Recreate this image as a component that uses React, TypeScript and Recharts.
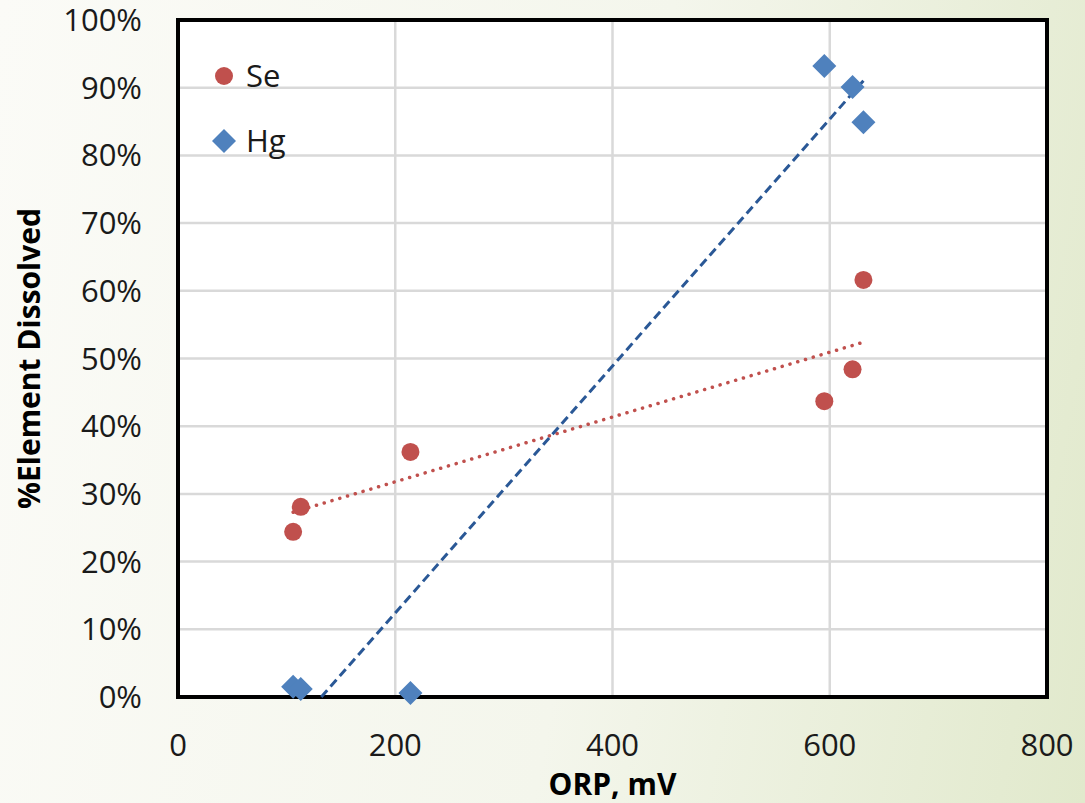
import { ScatterChart, Scatter, XAxis, YAxis, CartesianGrid, ReferenceArea, Legend } from "recharts";

// ORP (mV) of each sample, shared by both elements
const orp = [106, 113, 214, 595, 621, 631];
// % dissolved per element
const seDissolved = [24.4, 28.1, 36.2, 43.7, 48.4, 61.6];
const hgDissolved = [1.5, 1.2, 0.6, 93.2, 90.1, 84.9];

const xTicks = [0, 200, 400, 600, 800];
const yTicks = [0, 10, 20, 30, 40, 50, 60, 70, 80, 90, 100];

const SE_COLOR = "#c0504d";
const HG_COLOR = "#4f81bd";
const FONT = "'Open Sans', sans-serif";

const seData = orp.map((x, i) => ({ x, y: seDissolved[i] }));
const hgData = orp.map((x, i) => ({ x, y: hgDissolved[i] }));

// least squares fit, like the Excel linear trendline
const fit = (xs: number[], ys: number[]) => {
  const n = xs.length;
  const mx = xs.reduce((a, b) => a + b, 0) / n;
  const my = ys.reduce((a, b) => a + b, 0) / n;
  let sxy = 0;
  let sxx = 0;
  xs.forEach((x, i) => {
    sxy += (x - mx) * (ys[i] - my);
    sxx += (x - mx) * (x - mx);
  });
  const slope = sxy / sxx;
  return { slope, intercept: my - slope * mx };
};

const trend = (xs: number[], ys: number[]) => {
  const { slope, intercept } = fit(xs, ys);
  let x0 = Math.min(...xs);
  const x1 = Math.max(...xs);
  // clip at the bottom of the plot
  if (slope * x0 + intercept < 0) x0 = -intercept / slope;
  return [
    { x: x0, y: slope * x0 + intercept },
    { x: x1, y: slope * x1 + intercept },
  ];
};

const seTrend = trend(orp, seDissolved);
const hgTrend = trend(orp, hgDissolved);

const Dot = (props: any) => <circle cx={props.cx} cy={props.cy} r={9} fill={SE_COLOR} />;

const Diamond = (props: any) => {
  const { cx, cy } = props;
  const s = 12;
  return <path d={`M${cx},${cy - s}L${cx + s},${cy}L${cx},${cy + s}L${cx - s},${cy}Z`} fill={HG_COLOR} />;
};

const NoMark = () => null;

const LegendBox = () => (
  <div style={{ fontFamily: FONT, fontSize: 31, color: "#1a1a1a", lineHeight: "65px" }}>
    <div style={{ display: "flex", alignItems: "center" }}>
      <svg width={24} height={24} style={{ marginRight: 10 }}>
        <circle cx={12} cy={12} r={9} fill={SE_COLOR} />
      </svg>
      Se
    </div>
    <div style={{ display: "flex", alignItems: "center" }}>
      <svg width={24} height={24} style={{ marginRight: 10 }}>
        <path d="M12,0L24,12L12,24L0,12Z" fill={HG_COLOR} />
      </svg>
      Hg
    </div>
  </div>
);

export default function App() {
  return (
    <div
      style={{
        position: "absolute",
        left: 0,
        top: 0,
        width: 1085,
        height: 803,
        background: "linear-gradient(100deg, #fbfbf7 0%, #f4f6ec 55%, #e1e9cc 100%)",
      }}
    >
      <ScatterChart width={1085} height={803} margin={{ top: 20, right: 38, bottom: 0, left: 0 }}>
        <CartesianGrid stroke="#d9d9d9" strokeWidth={2.5} fill="#ffffff" fillOpacity={1} />
        <XAxis
          type="number"
          dataKey="x"
          domain={[0, 800]}
          ticks={xTicks}
          axisLine={false}
          tickLine={false}
          tickSize={0}
          tickMargin={37}
          height={106}
          tick={{ fill: "#1a1a1a", fontSize: 31, fontFamily: FONT }}
          label={{
            value: "ORP, mV",
            position: "insideBottom",
            offset: 8,
            style: { fill: "#000", fontSize: 30, fontWeight: 700, fontFamily: FONT },
          }}
        />
        <YAxis
          type="number"
          dataKey="y"
          domain={[0, 100]}
          ticks={yTicks}
          axisLine={false}
          tickLine={false}
          tickSize={0}
          tickMargin={36}
          width={178}
          tickFormatter={(v: number) => `${v}%`}
          tick={{ fill: "#1a1a1a", fontSize: 31, fontFamily: FONT }}
          label={{
            value: "%Element Dissolved",
            angle: -90,
            position: "insideLeft",
            offset: 29,
            style: { textAnchor: "middle", fill: "#000", fontSize: 30, fontWeight: 700, fontFamily: FONT },
          }}
        />
        <ReferenceArea x1={0} x2={800} y1={0} y2={100} fill="none" stroke="#000" strokeWidth={4} />
        <Scatter
          data={seTrend}
          shape={NoMark}
          line={{ stroke: SE_COLOR, strokeWidth: 3.5, strokeDasharray: "0.1 8", strokeLinecap: "round" }}
          isAnimationActive={false}
          legendType="none"
        />
        <Scatter
          data={hgTrend}
          shape={NoMark}
          line={{ stroke: "#2a5896", strokeWidth: 3, strokeDasharray: "9 5" }}
          isAnimationActive={false}
          legendType="none"
        />
        <Scatter name="Se" data={seData} shape={Dot} isAnimationActive={false} />
        <Scatter name="Hg" data={hgData} shape={Diamond} isAnimationActive={false} />
        <Legend
          content={LegendBox}
          layout="vertical"
          verticalAlign="middle"
          align="center"
          wrapperStyle={{ left: 212, top: 43, width: 150 }}
        />
      </ScatterChart>
    </div>
  );
}
